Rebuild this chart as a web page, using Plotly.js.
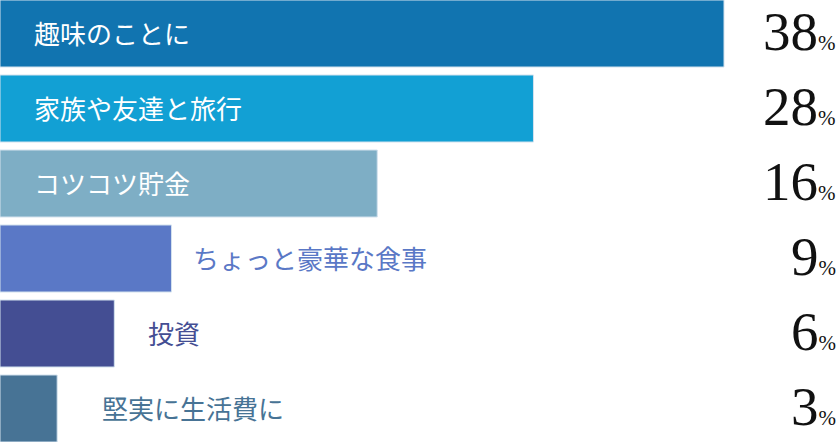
<!DOCTYPE html>
<html>
<head>
<meta charset="utf-8">
<script src="https://cdn.plot.ly/plotly-3.0.1.min.js"></script>
<style>
html,body{margin:0;padding:0;background:#fff;}
#chart{width:838px;height:442px;}
</style>
</head>
<body>
<div id="chart"></div>
<script>
// ---- data ----
const categories = ["趣味のことに", "家族や友達と旅行", "コツコツ貯金", "ちょっと豪華な食事", "投資", "堅実に生活費に"];
const percentValues = [38, 28, 16, 9, 6, 3];
// bar lengths as drawn in the picture (the third bar is drawn longer than its label)
const barLengths = [38, 28, 19.8, 9, 6, 3];
const barColors = ["#1174b0", "#12a0d4", "#7eaec5", "#5a78c6", "#444e93", "#477395"];

// ---- styling ----
const insideCount = 3;            // first three labels are drawn inside the bars in white
const outsideShift = [0, 0, 0, 21, 33, 44];
const bargap = 8 / 75;

const trace = {
  type: "bar",
  orientation: "h",
  y: categories,
  x: barLengths,
  marker: {color: barColors, line: {color: "#d3e2ee", width: 1}},
  hoverinfo: "none",
  showlegend: false
};

const annotations = [];
categories.forEach((c, i) => {
  const inside = i < insideCount;
  annotations.push({
    x: inside ? 0 : barLengths[i],
    y: c,
    xref: "x", yref: "y",
    xanchor: "left", yanchor: "middle",
    xshift: inside ? 32 : outsideShift[i] - 1,
    yshift: 1,
    text: c,
    showarrow: false,
    font: {family: "Noto Sans CJK JP", size: 26, color: inside ? "#ffffff" : barColors[i]}
  });
  annotations.push({
    x: 1, y: c,
    xref: "paper", yref: "y",
    xanchor: "right", yanchor: "middle",
    xshift: 0, yshift: 2,
    text: percentValues[i] + "<span style='font-size:21px'>%</span>",
    showarrow: false,
    font: {family: "Liberation Serif", size: 55, color: "#111111"}
  });
});

const layout = {
  width: 838, height: 442,
  margin: {l: 0, r: 0, t: 0, b: 0, pad: 0},
  paper_bgcolor: "#ffffff", plot_bgcolor: "#ffffff",
  bargap: bargap,
  xaxis: {range: [0, 838 / (724 / 38)], visible: false, fixedrange: true},
  yaxis: {type: "category", range: [5.5 - bargap / 2, -0.5 + bargap / 2], visible: false, fixedrange: true},
  annotations: annotations
};

Plotly.newPlot("chart", [trace], layout, {displayModeBar: false, staticPlot: true});
</script>
</body>
</html>
